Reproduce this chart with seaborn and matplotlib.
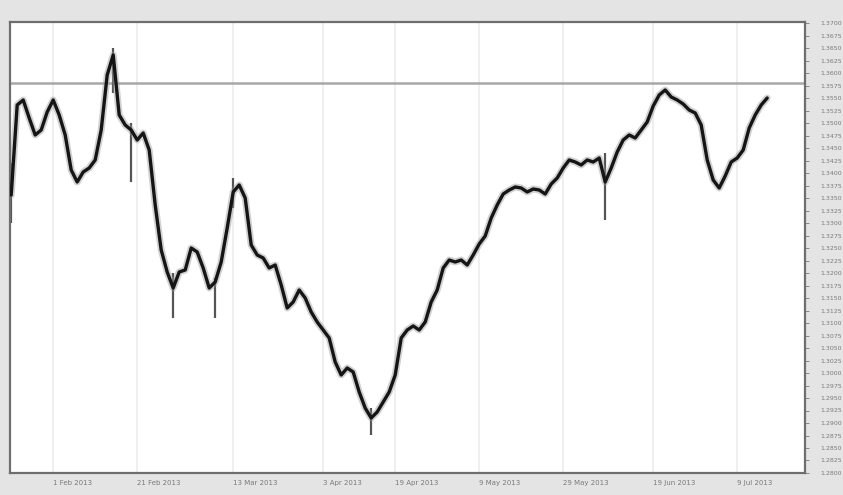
import numpy as np
import pandas as pd
import matplotlib
matplotlib.use("Agg")
import matplotlib.pyplot as plt
import seaborn as sns

# daily closes
close = [1.3356, 1.3536, 1.3546, 1.3510, 1.3476, 1.3486, 1.3522, 1.3546, 1.3516, 1.3476,
         1.3406, 1.3382, 1.3402, 1.3410, 1.3426, 1.3486, 1.3596, 1.3636, 1.3516, 1.3496,
         1.3486, 1.3466, 1.3480, 1.3446, 1.3336, 1.3246, 1.3202, 1.3170, 1.3202, 1.3206,
         1.3250, 1.3242, 1.3210, 1.3170, 1.3182, 1.3222, 1.3290, 1.3362, 1.3376, 1.3350,
         1.3256, 1.3236, 1.3230, 1.3210, 1.3216, 1.3176, 1.3130, 1.3142, 1.3166, 1.3150,
         1.3122, 1.3102, 1.3086, 1.3070, 1.3022, 1.2996, 1.3010, 1.3002, 1.2962, 1.2930,
         1.2910, 1.2922, 1.2942, 1.2962, 1.2996, 1.3070, 1.3086, 1.3094, 1.3086, 1.3102,
         1.3142, 1.3166, 1.3210, 1.3226, 1.3222, 1.3226, 1.3216, 1.3236, 1.3258, 1.3274,
         1.3310, 1.3336, 1.3358, 1.3366, 1.3372, 1.3370, 1.3362, 1.3368, 1.3366, 1.3358,
         1.3378, 1.3390, 1.3410, 1.3426, 1.3422, 1.3416, 1.3426, 1.3422, 1.3430, 1.3382,
         1.3410, 1.3442, 1.3466, 1.3476, 1.3470, 1.3486, 1.3502, 1.3534, 1.3556, 1.3566,
         1.3552, 1.3546, 1.3538, 1.3526, 1.3520, 1.3496, 1.3426, 1.3386, 1.3370, 1.3394,
         1.3422, 1.3430, 1.3446, 1.3490, 1.3516, 1.3536, 1.3550]

# a few visible wicks
wick_idx = [0, 17, 20, 27, 34, 37, 60, 99]
wick_lo = [1.3300, 1.3560, 1.3382, 1.3110, 1.3110, 1.3330, 1.2876, 1.3306]
wick_hi = [1.3420, 1.3650, 1.3500, 1.3200, 1.3190, 1.3390, 1.2930, 1.3440]

level = 1.3580

tick_pos = [7, 21, 37, 52, 64, 78, 92, 107, 121]
tick_labels = ["1 Feb 2013", "21 Feb 2013", "13 Mar 2013", "3 Apr 2013", "19 Apr 2013",
               "9 May 2013", "29 May 2013", "19 Jun 2013", "9 Jul 2013"]

df = pd.DataFrame({"bar": np.arange(len(close)), "close": close})

sns.set_style("white")
fig = plt.figure(figsize=(8.43, 4.95), dpi=100, facecolor="#e4e4e4")
ax = fig.add_axes([10 / 843, 1 - 473 / 495, 795 / 843, 451 / 495])
ax.set_facecolor("white")

for p in tick_pos:
    ax.axvline(p, color="#ececec", lw=1.2, zorder=0)
ax.axhline(level, color="#a8a8a8", lw=1.8, zorder=1)

ax.vlines(wick_idx, wick_lo, wick_hi, color="#555555", lw=1.6, zorder=2)
sns.lineplot(data=df, x="bar", y="close", ax=ax, color="#9a9a9a", lw=5, alpha=0.45, zorder=2)
sns.lineplot(data=df, x="bar", y="close", ax=ax, color="#151515", lw=2.4, zorder=3)

ax.set_xlim(-0.2, 132.3)
ax.set_ylim(1.2800, 1.3702)
ax.set_xlabel("")
ax.set_ylabel("")

ax.yaxis.tick_right()
ax.set_yticks(np.arange(1.2800, 1.3701, 0.0025))
ax.set_yticklabels([f"{v:.4f}" for v in np.arange(1.2800, 1.3701, 0.0025)])
ax.tick_params(axis="y", labelsize=4.5, colors="#7a7a7a", length=3, width=0.6, pad=8)

ax.set_xticks(tick_pos)
ax.set_xticklabels(tick_labels, ha="left")
ax.tick_params(axis="x", labelsize=5, colors="#7a7a7a", length=4, width=0.6, pad=1)

for s in ax.spines.values():
    s.set_color("#6e6e6e")
    s.set_linewidth(1.6)

fig.savefig("out.png", dpi=100, facecolor=fig.get_facecolor())
